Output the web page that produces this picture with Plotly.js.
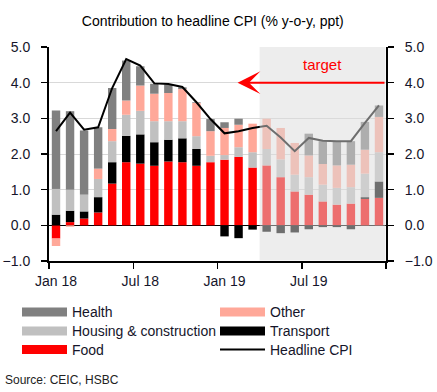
<!DOCTYPE html>
<html>
<head>
<meta charset="utf-8">
<script src="https://cdn.plot.ly/plotly-3.0.1.min.js"></script>
<style>html,body{margin:0;padding:0;background:#fff}#chart{width:437px;height:392px}</style>
</head>
<body>
<div id="chart"></div>
<script>
// ---- data ----
var months = ["Jan 18","Feb 18","Mar 18","Apr 18","May 18","Jun 18","Jul 18","Aug 18","Sep 18","Oct 18","Nov 18","Dec 18",
              "Jan 19","Feb 19","Mar 19","Apr 19","May 19","Jun 19","Jul 19","Aug 19","Sep 19","Oct 19","Nov 19","Dec 19"];
var food      = [-0.37,0.09,0.19,0.36,1.17,1.77,1.73,1.67,1.79,1.77,1.67,1.77, 1.84,1.92,1.62,1.68,1.35,0.95,0.86,0.67,0.58,0.61,0.74,0.77];
var transport = [0.30,0.32,0.20,0.43,0.60,0.74,0.82,0.66,0.61,0.67,0.47,0.00, -0.31,-0.36,-0.12,-0.18,-0.22,-0.20,-0.11,-0.05,-0.05,-0.11,0.05,0.46];
var housing   = [0.72,0.59,0.47,0.51,0.59,0.59,0.66,0.59,0.52,0.48,0.36,0.18, 0.13,0.27,0.43,0.46,0.50,0.47,0.49,0.47,0.47,0.46,0.66,0.82];
var other     = [-0.21,-0.04,0.00,0.29,0.34,0.40,0.71,0.77,0.79,0.90,0.93,0.69, 0.76,0.63,0.80,0.85,0.88,0.89,0.61,0.58,0.63,0.63,0.67,0.99];
var health    = [2.20,2.20,1.80,1.16,1.15,1.12,0.54,0.28,0.24,0.05,0.02,0.34, 0.16,0.17,0.00,0.00,0.00,0.00,0.61,0.64,0.68,0.66,0.78,0.32];
var headline  = [2.64,3.16,2.68,2.75,3.85,4.66,4.48,3.98,3.96,3.88,3.45,2.98, 2.58,2.64,2.73,2.79,2.46,2.08,2.45,2.37,2.36,2.36,2.87,3.36];
var tickLabels = ["Jan 18","Jul 18","Jan 19","Jul 19"];
var tickMonths = ["Jan 18","Jul 18","Jan 19","Jul 19"];
var forecastStart = "Apr 19";
var targetValue = 4.0;

var idx = months.map(function(m,i){return i;});
var tickPos = tickMonths.map(function(m){return months.indexOf(m);});
var fStart = months.indexOf(forecastStart);
var nM = months.length;

var FONT = "Liberation Sans, Arial, sans-serif";
var TXT = "#15152a";

function bar(name, vals, color){
  return {type:"bar", name:name, x:idx, y:vals, marker:{color:color, line:{width:0}},
          width:0.6, showlegend:false, hoverinfo:"skip"};
}
var traces = [
  bar("Food", food, "#ff0000"),
  bar("Transport", transport, "#000000"),
  bar("Housing & construction", housing, "#c0c0c0"),
  bar("Other", other, "#ffa899"),
  bar("Health", health, "#808080"),
  {type:"scatter", mode:"lines", name:"Headline CPI", x:idx, y:headline, yaxis:"y2",
   line:{color:"#000", width:2}, showlegend:false, hoverinfo:"skip"}
];

// pixel -> paper helpers for legend placement
var L=49, R=386, T=47, B=261;
function px(x){return (x-L)/(R-L);}
function py(y){return (B-y)/(B-T);}

var shapes = [
  {type:"rect", xref:"x", yref:"y", x0:fStart-0.5, x1:nM-0.5-0.04, y0:-0.985, y1:5.05,
   fillcolor:"rgba(220,220,220,0.5)", line:{width:0}, layer:"above"}
];
var annotations = [
  {xref:"x", yref:"y", axref:"x", ayref:"y", x:12.93, y:targetValue, ax:nM-0.5, ay:targetValue,
   text:"", showarrow:true, arrowhead:3, arrowsize:1.9, arrowwidth:2, arrowcolor:"#ff0000", standoff:0},
  {xref:"x", yref:"y", x:19.0, y:4.52, text:"target", showarrow:false,
   font:{family:FONT, size:15, color:"#ff0000"}},
  {xref:"paper", yref:"paper", x:px(3), y:py(380), xanchor:"left", yanchor:"middle",
   text:"Source: CEIC, HSBC", showarrow:false, font:{family:FONT, size:12, color:"#222"}}
];
var legendItems = [
  {name:"Health", color:"#808080", col:0, row:0},
  {name:"Housing & construction", color:"#c0c0c0", col:0, row:1},
  {name:"Food", color:"#ff0000", col:0, row:2},
  {name:"Other", color:"#ffa899", col:1, row:0},
  {name:"Transport", color:"#000000", col:1, row:1},
  {name:"Headline CPI", color:"#000000", col:1, row:2, line:true}
];
var colX = [22, 220], rowY = [312, 331, 349.5];
legendItems.forEach(function(it){
  var x0 = colX[it.col], yc = rowY[it.row];
  if(it.line){
    shapes.push({type:"line", xref:"paper", yref:"paper", x0:px(x0), x1:px(x0+45), y0:py(yc), y1:py(yc),
                 line:{color:it.color, width:2}});
  } else {
    shapes.push({type:"rect", xref:"paper", yref:"paper", x0:px(x0), x1:px(x0+45), y0:py(yc+4.5), y1:py(yc-4.5),
                 fillcolor:it.color, line:{width:0}});
  }
  annotations.push({xref:"paper", yref:"paper", x:px(x0+48), y:py(yc), xanchor:"left", yanchor:"middle",
                    text:it.name, showarrow:false, font:{family:FONT, size:14, color:TXT}});
});

var yax = {range:[-1,5], dtick:1, tick0:0, tickformat:".1f", ticks:"outside", ticklen:6, tickwidth:1.5, tickcolor:"#000",
           showline:true, linewidth:2, linecolor:"#000", fixedrange:true,
           tickfont:{family:FONT, size:14, color:TXT}, ticklabelstandoff:8};

var layout = {
  width:437, height:392,
  margin:{l:L, r:437-R, t:T, b:392-B, pad:0},
  paper_bgcolor:"#fff", plot_bgcolor:"#fff",
  barmode:"relative", bargap:0.4,
  showlegend:false,
  title:{text:"Contribution to headline CPI (% y-o-y, ppt)", x:0.487, xanchor:"center", y:1-21/392, yanchor:"middle",
         font:{family:FONT, size:14, color:"#000"}},
  xaxis:{range:[-0.5, nM-0.5], tickmode:"array", tickvals:tickPos, ticktext:tickLabels, ticks:"",
         showline:true, linewidth:2, linecolor:"#000", showgrid:false, zeroline:false,
         tickfont:{family:FONT, size:14, color:TXT}, ticklabelstandoff:6,
         minor:{tickmode:"array", tickvals:[-0.5,5.5,11.5,17.5,nM-0.5], ticks:"outside", ticklen:6, tickwidth:1.5, tickcolor:"#000", showgrid:false}},
  yaxis:Object.assign({}, yax, {showgrid:true, gridcolor:"#d9d9d9", gridwidth:1, zeroline:true, zerolinecolor:"#000", zerolinewidth:1.5}),
  yaxis2:Object.assign({}, yax, {overlaying:"y", side:"right", showgrid:false, zeroline:false}),
  shapes:shapes,
  annotations:annotations
};

Plotly.newPlot("chart", traces, layout, {staticPlot:true, displayModeBar:false});
</script>
</body>
</html>
